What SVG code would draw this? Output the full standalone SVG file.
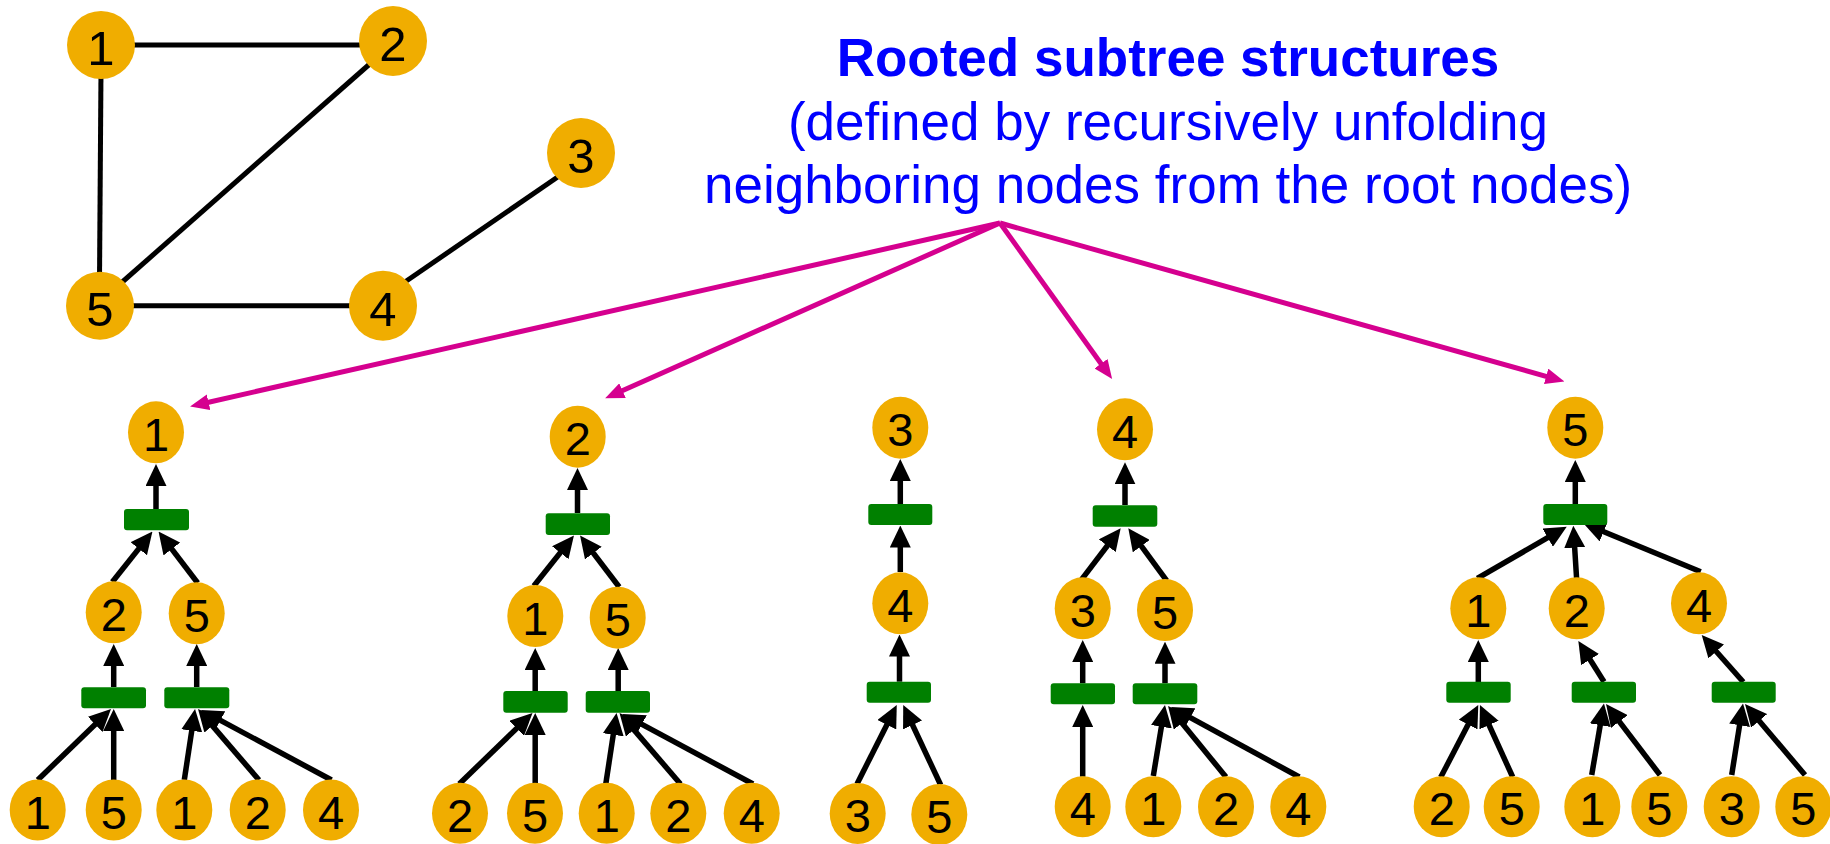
<svg xmlns="http://www.w3.org/2000/svg" width="1830" height="844" viewBox="0 0 1830 844">
<defs>
<style>
.n ellipse{fill:#F0AD00}
.n text{font-family:"Liberation Sans",Arial,sans-serif;font-size:47px;text-anchor:middle;fill:#000}
.g .n text{font-size:49px}
.bar{fill:#008000}
.e{stroke:#000;stroke-width:5;fill:none}
.a{stroke:#000;stroke-width:5.5;fill:none;marker-end:url(#ah)}
.m{stroke:#D5008F;stroke-width:5;fill:none;marker-end:url(#mh)}
.t{font-family:"Liberation Sans",Arial,sans-serif;font-size:53px;text-anchor:middle;fill:#0000FF}
</style>
<marker id="ah" markerUnits="userSpaceOnUse" viewBox="0 0 22 21" markerWidth="22" markerHeight="21" refX="11" refY="10.5" orient="auto"><path d="M0,0 L22,10.5 L0,21 z" fill="#000"/></marker>
<marker id="mh" markerUnits="userSpaceOnUse" viewBox="0 0 19 16" markerWidth="19" markerHeight="16" refX="9" refY="8" orient="auto"><path d="M0,0 L19,8 L0,16 z" fill="#D5008F"/></marker>
</defs>
<rect width="1830" height="844" fill="#fff"/>

<g id="title">
<text class="t" x="1168" y="76" font-weight="bold">Rooted subtree structures</text>
<text class="t" x="1168" y="140">(defined by recursively unfolding</text>
<text class="t" x="1168" y="203">neighboring nodes from the root nodes)</text>
</g>

<g id="connectors">
<!-- top graph edges -->
<line class="e" x1="125" y1="45" x2="370" y2="45"/>
<line class="e" x1="101" y1="70" x2="99.5" y2="280"/>
<line class="e" x1="372" y1="62" x2="120" y2="284"/>
<line class="e" x1="562" y1="174" x2="402" y2="284"/>
<line class="e" x1="125" y1="305.7" x2="360" y2="305.7"/>
<!-- magenta -->
<line class="m" x1="1000" y1="223" x2="199.8" y2="404.2"/>
<line class="m" x1="1000" y1="223" x2="614.3" y2="394.3"/>
<line class="m" x1="1000" y1="223" x2="1106.3" y2="371"/>
<line class="m" x1="1000" y1="223" x2="1554.8" y2="378.8"/>
<!-- tree 1 -->
<line class="a" x1="156" y1="509" x2="156" y2="475"/>
<line class="a" x1="112.3" y1="582" x2="145.6" y2="540.1"/>
<line class="a" x1="197.7" y1="583" x2="165.2" y2="540.3"/>
<line class="a" x1="113.7" y1="687" x2="113.7" y2="655"/>
<line class="a" x1="196.7" y1="687" x2="196.7" y2="655"/>
<line class="a" x1="37.7" y1="780" x2="103.1" y2="716.7"/>
<line class="a" x1="113.7" y1="780" x2="113.7" y2="720"/>
<line class="a" x1="184.3" y1="780" x2="193.4" y2="719.9"/>
<line class="a" x1="259" y1="780" x2="205.2" y2="717.4"/>
<line class="a" x1="331.5" y1="780" x2="210.7" y2="715.2"/>
<!-- tree 2 -->
<line class="a" x1="577.5" y1="513" x2="577.5" y2="479"/>
<line class="a" x1="533.8" y1="586" x2="567.1" y2="544.1"/>
<line class="a" x1="619.2" y1="587" x2="586.7" y2="544.3"/>
<line class="a" x1="535.2" y1="691" x2="535.2" y2="659"/>
<line class="a" x1="618.2" y1="691" x2="618.2" y2="659"/>
<line class="a" x1="459.2" y1="784" x2="524.6" y2="720.7"/>
<line class="a" x1="535.2" y1="784" x2="535.2" y2="724"/>
<line class="a" x1="605.8" y1="784" x2="614.9" y2="723.9"/>
<line class="a" x1="680.5" y1="784" x2="626.7" y2="721.4"/>
<line class="a" x1="753" y1="784" x2="632.2" y2="719.2"/>
<!-- tree 3 -->
<line class="a" x1="900.3" y1="504" x2="900.3" y2="470"/>
<line class="a" x1="900.3" y1="572" x2="900.3" y2="536.5"/>
<line class="a" x1="899.5" y1="681.7" x2="899.5" y2="645.5"/>
<line class="a" x1="857" y1="784" x2="891.8" y2="714.9"/>
<line class="a" x1="940.7" y1="785" x2="907.9" y2="715"/>
<!-- tree 4 -->
<line class="a" x1="1125" y1="505" x2="1125" y2="473.3"/>
<line class="a" x1="1081.7" y1="579.3" x2="1114" y2="537"/>
<line class="a" x1="1166.7" y1="580.7" x2="1134.8" y2="537.2"/>
<line class="a" x1="1082.7" y1="683.3" x2="1082.7" y2="651"/>
<line class="a" x1="1165" y1="683.3" x2="1165" y2="652.7"/>
<line class="a" x1="1082.7" y1="776.7" x2="1082.7" y2="716"/>
<line class="a" x1="1153.3" y1="776" x2="1163.2" y2="715.9"/>
<line class="a" x1="1226" y1="777" x2="1175" y2="714.5"/>
<line class="a" x1="1299.3" y1="777" x2="1180.7" y2="712.3"/>
<!-- tree 5 -->
<line class="a" x1="1575.3" y1="504" x2="1575.3" y2="471"/>
<line class="a" x1="1477.3" y1="578.3" x2="1557.2" y2="532.2"/>
<line class="a" x1="1576.7" y1="580" x2="1574" y2="536.7"/>
<line class="a" x1="1700.7" y1="571.7" x2="1593.5" y2="527.5"/>
<line class="a" x1="1478.3" y1="682" x2="1478.3" y2="651"/>
<line class="a" x1="1604" y1="681.7" x2="1584.2" y2="650.3"/>
<line class="a" x1="1743.3" y1="682" x2="1709" y2="643.2"/>
<line class="a" x1="1440.7" y1="777.3" x2="1473.2" y2="714.8"/>
<line class="a" x1="1512.7" y1="777" x2="1484.5" y2="715"/>
<line class="a" x1="1591.7" y1="775" x2="1602.1" y2="714.3"/>
<line class="a" x1="1660" y1="775" x2="1612.7" y2="712.8"/>
<line class="a" x1="1731.7" y1="775" x2="1741.3" y2="714.4"/>
<line class="a" x1="1805" y1="775" x2="1752.1" y2="712.4"/>
</g>

<g id="graph" class="g">
<g id="g1" class="n"><ellipse cx="101" cy="45" rx="34" ry="34"/><text x="101" y="65">1</text></g>
<g id="g2" class="n"><ellipse cx="393" cy="41" rx="34" ry="35"/><text x="393" y="61">2</text></g>
<g id="g3" class="n"><ellipse cx="581" cy="153" rx="34" ry="35"/><text x="581" y="173">3</text></g>
<g id="g4" class="n"><ellipse cx="383" cy="305.7" rx="34" ry="35"/><text x="383" y="325.7">4</text></g>
<g id="g5" class="n"><ellipse cx="100" cy="305.7" rx="34" ry="34"/><text x="100" y="325.7">5</text></g>
</g>

<g id="tree1">
<g id="t1-root" class="n"><ellipse cx="156" cy="432.3" rx="28" ry="31"/><text x="156" y="451">1</text></g>
<rect id="t1-bar1" class="bar" x="124" y="509" width="65" height="21.3" rx="3"/>
<g id="t1-n2" class="n"><ellipse cx="113.7" cy="612.3" rx="28" ry="31"/><text x="113.7" y="631">2</text></g>
<g id="t1-n5" class="n"><ellipse cx="196.7" cy="613.3" rx="28" ry="31"/><text x="196.7" y="632">5</text></g>
<rect id="t1-bar2a" class="bar" x="81.3" y="687.3" width="64.7" height="21" rx="3"/>
<rect id="t1-bar2b" class="bar" x="164.3" y="687.3" width="65" height="21" rx="3"/>
<g id="t1-l1" class="n"><ellipse cx="37.7" cy="810" rx="28" ry="30.5"/><text x="37.7" y="828.7">1</text></g>
<g id="t1-l2" class="n"><ellipse cx="113.7" cy="810" rx="28" ry="30.5"/><text x="113.7" y="828.7">5</text></g>
<g id="t1-l3" class="n"><ellipse cx="184.3" cy="810" rx="28" ry="30.5"/><text x="184.3" y="828.7">1</text></g>
<g id="t1-l4" class="n"><ellipse cx="257.7" cy="810" rx="28" ry="30.5"/><text x="257.7" y="828.7">2</text></g>
<g id="t1-l5" class="n"><ellipse cx="331" cy="810" rx="28" ry="30.5"/><text x="331" y="828.7">4</text></g>
</g>

<g id="tree2">
<g id="t2-root" class="n"><ellipse cx="577.7" cy="436.7" rx="28" ry="31"/><text x="577.7" y="455.4">2</text></g>
<rect id="t2-bar1" class="bar" x="545.7" y="513.3" width="64.3" height="21.7" rx="3"/>
<g id="t2-n1" class="n"><ellipse cx="535.3" cy="616" rx="28" ry="31"/><text x="535.3" y="634.7">1</text></g>
<g id="t2-n5" class="n"><ellipse cx="617.7" cy="617.7" rx="28" ry="31"/><text x="617.7" y="636.4">5</text></g>
<rect id="t2-bar2a" class="bar" x="503.3" y="691" width="64.4" height="21.7" rx="3"/>
<rect id="t2-bar2b" class="bar" x="585.7" y="691" width="64.3" height="21.7" rx="3"/>
<g id="t2-l1" class="n"><ellipse cx="460" cy="813.3" rx="28" ry="30.5"/><text x="460" y="832">2</text></g>
<g id="t2-l2" class="n"><ellipse cx="535" cy="813.3" rx="28" ry="30.5"/><text x="535" y="832">5</text></g>
<g id="t2-l3" class="n"><ellipse cx="606.7" cy="813.3" rx="28" ry="30.5"/><text x="606.7" y="832">1</text></g>
<g id="t2-l4" class="n"><ellipse cx="678.3" cy="813.3" rx="28" ry="30.5"/><text x="678.3" y="832">2</text></g>
<g id="t2-l5" class="n"><ellipse cx="751.7" cy="813.3" rx="28" ry="30.5"/><text x="751.7" y="832">4</text></g>
</g>

<g id="tree3">
<g id="t3-root" class="n"><ellipse cx="900.3" cy="427.7" rx="28" ry="31"/><text x="900.3" y="446.4">3</text></g>
<rect id="t3-bar1" class="bar" x="868.3" y="504" width="64" height="21" rx="3"/>
<g id="t3-n4" class="n"><ellipse cx="900.3" cy="603.3" rx="28" ry="31"/><text x="900.3" y="622">4</text></g>
<rect id="t3-bar2" class="bar" x="866.7" y="681.7" width="64.3" height="21" rx="3"/>
<g id="t3-l1" class="n"><ellipse cx="857.7" cy="813.5" rx="28" ry="30.5"/><text x="857.7" y="832.2">3</text></g>
<g id="t3-l2" class="n"><ellipse cx="939.3" cy="814.5" rx="28" ry="30.5"/><text x="939.3" y="833.2">5</text></g>
</g>

<g id="tree4">
<g id="t4-root" class="n"><ellipse cx="1125" cy="429.3" rx="28" ry="31"/><text x="1125" y="448">4</text></g>
<rect id="t4-bar1" class="bar" x="1092.7" y="505.3" width="64.6" height="21.4" rx="3"/>
<g id="t4-n3" class="n"><ellipse cx="1082.7" cy="608.3" rx="28" ry="31"/><text x="1082.7" y="627">3</text></g>
<g id="t4-n5" class="n"><ellipse cx="1165" cy="610" rx="28" ry="31"/><text x="1165" y="628.7">5</text></g>
<rect id="t4-bar2a" class="bar" x="1050.7" y="683.3" width="64.3" height="21" rx="3"/>
<rect id="t4-bar2b" class="bar" x="1132.7" y="683.3" width="64.6" height="21" rx="3"/>
<g id="t4-l1" class="n"><ellipse cx="1082.7" cy="806.7" rx="28" ry="30.5"/><text x="1082.7" y="825.4">4</text></g>
<g id="t4-l2" class="n"><ellipse cx="1153.3" cy="806.7" rx="28" ry="30.5"/><text x="1153.3" y="825.4">1</text></g>
<g id="t4-l3" class="n"><ellipse cx="1226" cy="806.7" rx="28" ry="30.5"/><text x="1226" y="825.4">2</text></g>
<g id="t4-l4" class="n"><ellipse cx="1298.3" cy="806.7" rx="28" ry="30.5"/><text x="1298.3" y="825.4">4</text></g>
</g>

<g id="tree5">
<g id="t5-root" class="n"><ellipse cx="1575.3" cy="427.7" rx="28" ry="31"/><text x="1575.3" y="446.4">5</text></g>
<rect id="t5-bar1" class="bar" x="1543.3" y="504" width="64" height="21" rx="3"/>
<g id="t5-n1" class="n"><ellipse cx="1478.3" cy="608.3" rx="28" ry="31"/><text x="1478.3" y="627">1</text></g>
<g id="t5-n2" class="n"><ellipse cx="1576.7" cy="608.3" rx="28" ry="31"/><text x="1576.7" y="627">2</text></g>
<g id="t5-n4" class="n"><ellipse cx="1699" cy="603.3" rx="28" ry="31"/><text x="1699" y="622">4</text></g>
<rect id="t5-bar2a" class="bar" x="1446.3" y="681.7" width="64.4" height="21" rx="3"/>
<rect id="t5-bar2b" class="bar" x="1571.7" y="681.7" width="64.3" height="21" rx="3"/>
<rect id="t5-bar2c" class="bar" x="1711.7" y="681.7" width="64" height="21" rx="3"/>
<g id="t5-l1" class="n"><ellipse cx="1441.7" cy="806.7" rx="28" ry="30.5"/><text x="1441.7" y="825.4">2</text></g>
<g id="t5-l2" class="n"><ellipse cx="1511.7" cy="806.7" rx="28" ry="30.5"/><text x="1511.7" y="825.4">5</text></g>
<g id="t5-l3" class="n"><ellipse cx="1592.3" cy="806.7" rx="28" ry="30.5"/><text x="1592.3" y="825.4">1</text></g>
<g id="t5-l4" class="n"><ellipse cx="1659.3" cy="806.7" rx="28" ry="30.5"/><text x="1659.3" y="825.4">5</text></g>
<g id="t5-l5" class="n"><ellipse cx="1731.7" cy="806.7" rx="28" ry="30.5"/><text x="1731.7" y="825.4">3</text></g>
<g id="t5-l6" class="n"><ellipse cx="1803.3" cy="806.7" rx="28" ry="30.5"/><text x="1803.3" y="825.4">5</text></g>
</g>
</svg>
